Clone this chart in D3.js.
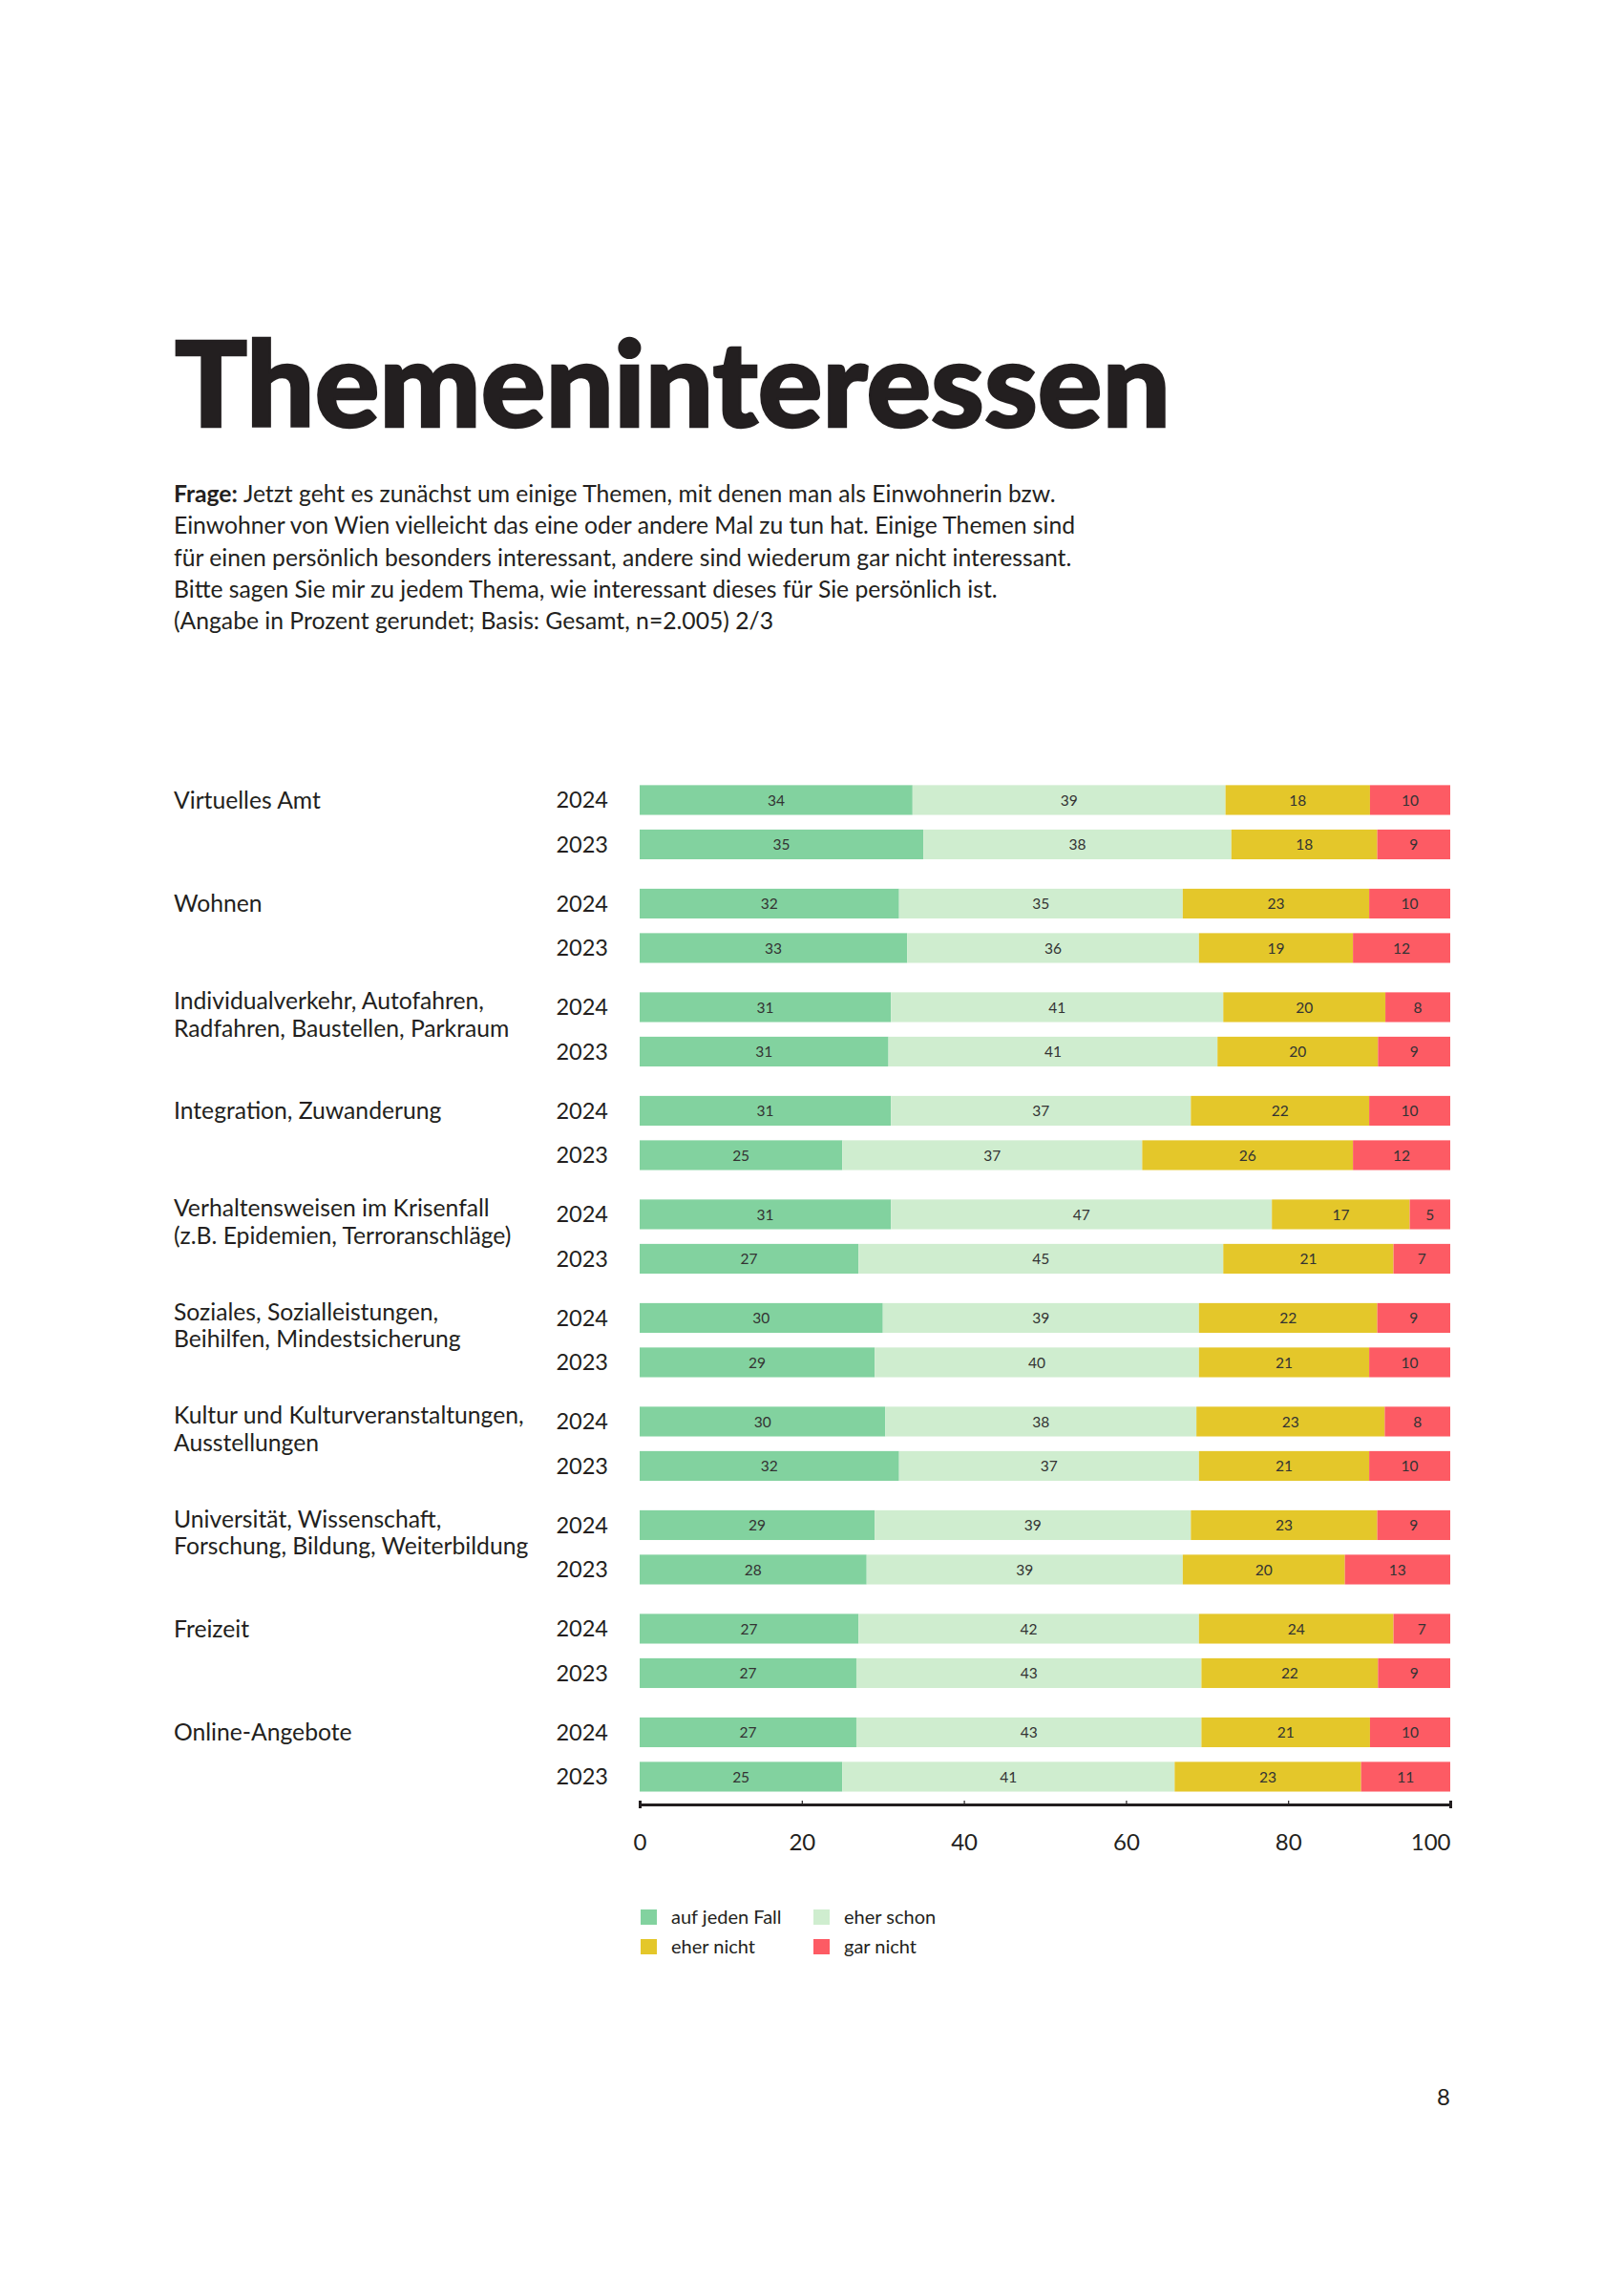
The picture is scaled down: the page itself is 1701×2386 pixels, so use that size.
<!DOCTYPE html>
<html>
<head>
<meta charset="utf-8">
<script src="https://cdn.jsdelivr.net/npm/d3@7"></script>
<style>
  body { margin: 0; background: #fff; }
  text { font-family: Lato, "Open Sans", sans-serif; fill: #231f20; }
</style>
</head>
<body>
<div class="chart"></div>
<script>
let width = 1701,
  height = 2386;

// data
const categories = [
  "Virtuelles Amt",
  "Wohnen",
  "Individualverkehr, Autofahren,\nRadfahren, Baustellen, Parkraum",
  "Integration, Zuwanderung",
  "Verhaltensweisen im Krisenfall\n(z.B. Epidemien, Terroranschläge)",
  "Soziales, Sozialleistungen,\nBeihilfen, Mindestsicherung",
  "Kultur und Kulturveranstaltungen,\nAusstellungen",
  "Universität, Wissenschaft,\nForschung, Bildung, Weiterbildung",
  "Freizeit",
  "Online-Angebote"
];
const years = ["2024", "2023"];
const seriesNames = ["auf jeden Fall", "eher schon", "eher nicht", "gar nicht"];
const seriesColors = ["#82d29f", "#cfedcf", "#e4c72a", "#fd5b64"];

const aufJedenFall2024 = [34, 32, 31, 31, 31, 30, 30, 29, 27, 27];
const eherSchon2024 = [39, 35, 41, 37, 47, 39, 38, 39, 42, 43];
const eherNicht2024 = [18, 23, 20, 22, 17, 22, 23, 23, 24, 21];
const garNicht2024 = [10, 10, 8, 10, 5, 9, 8, 9, 7, 10];

const aufJedenFall2023 = [35, 33, 31, 25, 27, 29, 32, 28, 27, 25];
const eherSchon2023 = [38, 36, 41, 37, 45, 40, 37, 39, 43, 41];
const eherNicht2023 = [18, 19, 20, 26, 21, 21, 21, 20, 22, 23];
const garNicht2023 = [9, 12, 9, 12, 7, 10, 10, 13, 9, 11];

const tickValues = [0, 20, 40, 60, 80, 100];

const byYear = {
  "2024": [aufJedenFall2024, eherSchon2024, eherNicht2024, garNicht2024],
  "2023": [aufJedenFall2023, eherSchon2023, eherNicht2023, garNicht2023]
};

let svg = d3
  .select(".chart")
  .append("svg")
  .attr("width", width)
  .attr("height", height);

svg.append("rect").attr("width", width).attr("height", height).attr("fill", "#fff");

// title (stroke thickens it towards the heavy original face)
svg
  .append("text")
  .attr("x", 183)
  .attr("y", 447)
  .attr("textLength", 1043)
  .attr("lengthAdjust", "spacingAndGlyphs")
  .style("font-size", "124px")
  .style("font-weight", 900)
  .style("stroke", "#231f20")
  .style("stroke-width", 2.5)
  .text("Themeninteressen");

// question
let questionLines = [
  "Jetzt geht es zunächst um einige Themen, mit denen man als Einwohnerin bzw.",
  "Einwohner von Wien vielleicht das eine oder andere Mal zu tun hat. Einige Themen sind",
  "für einen persönlich besonders interessant, andere sind wiederum gar nicht interessant.",
  "Bitte sagen Sie mir zu jedem Thema, wie interessant dieses für Sie persönlich ist.",
  "(Angabe in Prozent gerundet; Basis: Gesamt, n=2.005) 2/3"
];
let question = svg
  .append("text")
  .attr("x", 182)
  .attr("y", 526)
  .style("font-size", "24.7px");
questionLines.forEach((line, i) => {
  let t = question
    .append("tspan")
    .attr("x", 182)
    .attr("dy", i === 0 ? 0 : 33.3);
  if (i === 0) {
    t.append("tspan").style("font-weight", 700).text("Frage: ");
    t.append("tspan").text(line);
  } else {
    t.text(line);
  }
});

// scales
let x = d3.scaleLinear().domain([0, 100]).range([670, 1519]);

let yGroup = d3
  .scaleBand()
  .domain(categories)
  .range([814.7, 814.7 + 108.5 * categories.length]);

let yYear = d3
  .scaleBand()
  .domain(years)
  .range([0, 93])
  .paddingInner(0.33)
  .paddingOuter(0.165);

// rows: one per category and year, segments normalised to the row total
let rows = [];
categories.forEach((cat, ci) => {
  years.forEach(yr => {
    let vals = byYear[yr].map(s => s[ci]);
    let total = d3.sum(vals);
    let acc = 0;
    let segs = vals.map((v, si) => {
      let seg = { v: v, si: si, x0: (acc / total) * 100, x1: ((acc + v) / total) * 100 };
      acc += v;
      return seg;
    });
    rows.push({ cat: cat, year: yr, segs: segs });
  });
});

let rowY = d => yGroup(d.cat) + yYear(d.year);

let rowG = svg
  .selectAll(".row")
  .data(rows)
  .enter()
  .append("g")
  .attr("class", "row")
  .attr("transform", d => "translate(0," + rowY(d) + ")");

rowG
  .selectAll("rect")
  .data(d => d.segs)
  .enter()
  .append("rect")
  .attr("x", d => x(d.x0))
  .attr("width", d => x(d.x1) - x(d.x0))
  .attr("y", 0)
  .attr("height", yYear.bandwidth())
  .style("fill", d => seriesColors[d.si]);

rowG
  .selectAll(".val")
  .data(d => d.segs)
  .enter()
  .append("text")
  .attr("class", "val")
  .attr("x", d => x((d.x0 + d.x1) / 2))
  .attr("y", yYear.bandwidth() / 2)
  .attr("dy", "0.36em")
  .attr("text-anchor", "middle")
  .style("font-size", "15.5px")
  .style("fill", "#333")
  .text(d => d.v);

// year labels
rowG
  .append("text")
  .attr("x", 637)
  .attr("y", yYear.bandwidth() / 2)
  .attr("dy", "0.36em")
  .attr("text-anchor", "end")
  .style("font-size", "23.5px")
  .text(d => d.year);

// category labels
categories.forEach(cat => {
  let lines = cat.split("\n");
  let t = svg
    .append("text")
    .attr("x", 182)
    .attr("y", yGroup(cat) + yYear("2024") + yYear.bandwidth() / 2)
    .attr("dy", lines.length > 1 ? "0.1em" : "0.36em")
    .style("font-size", "24.7px");
  lines.forEach((l, i) => {
    t.append("tspan")
      .attr("x", 182)
      .attr("dy", i === 0 ? null : 28.5)
      .text(l);
  });
});

// x axis
let xAxis = d3
  .axisBottom(x)
  .tickValues(tickValues)
  .tickSize(0)
  .tickPadding(31);

let axisG = svg
  .append("g")
  .attr("transform", "translate(0,1890)")
  .call(xAxis);

axisG.select(".domain").attr("stroke", "#231f20").attr("stroke-width", 3);
let isEnd = i => i === 0 || i === tickValues.length - 1;
axisG
  .selectAll(".tick line")
  .attr("y1", -4)
  .attr("y2", (d, i) => (isEnd(i) ? 4 : 1))
  .attr("stroke", "#231f20")
  .attr("stroke-width", (d, i) => (isEnd(i) ? 3 : 1.2));
axisG
  .selectAll(".tick text")
  .style("font-size", "24px")
  .style("font-family", "Lato, sans-serif")
  .style("fill", "#231f20")
  .attr("text-anchor", (d, i) => (i === tickValues.length - 1 ? "end" : "middle"));

// legend
let legendItems = seriesNames.map((name, i) => ({ name: name, color: seriesColors[i], col: i % 2, row: Math.floor(i / 2) }));
let legend = svg
  .selectAll(".legend")
  .data(legendItems)
  .enter()
  .append("g")
  .attr("class", "legend")
  .attr("transform", d => "translate(" + (671 + d.col * 181) + "," + (2000 + d.row * 31) + ")");

legend
  .append("rect")
  .attr("width", 17)
  .attr("height", 16)
  .style("fill", d => d.color);

legend
  .append("text")
  .attr("x", 32)
  .attr("y", 8)
  .attr("dy", "0.36em")
  .style("font-size", "20px")
  .text(d => d.name);

// page number
svg
  .append("text")
  .attr("x", 1519)
  .attr("y", 2205)
  .attr("text-anchor", "end")
  .style("font-size", "24px")
  .text("8");
</script>
</body>
</html>
